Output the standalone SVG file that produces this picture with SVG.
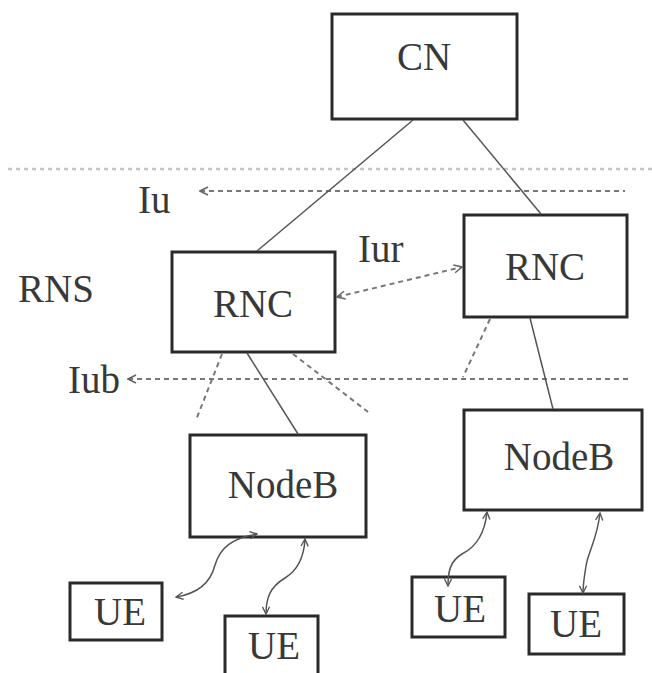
<svg xmlns="http://www.w3.org/2000/svg" width="652" height="673" viewBox="0 0 652 673">
<style>
.box{fill:#fff;stroke:#2a2a2a;stroke-width:3}
.t{font-family:"Liberation Serif","Times New Roman",serif;font-size:39px;fill:#383838}
.solid{fill:none;stroke:#555;stroke-width:1.5}
.dash{fill:none;stroke:#777;stroke-width:2;stroke-dasharray:5 4}
.dot{fill:none;stroke:#c4c4c4;stroke-width:2.5;stroke-dasharray:4 4}
.wave{fill:none;stroke:#555;stroke-width:1.5}
</style>
<defs>
<marker id="ah" viewBox="0 0 10 10" refX="9" refY="5" markerWidth="10" markerHeight="10" markerUnits="userSpaceOnUse" orient="auto-start-reverse">
<path d="M1,1 L9,5 L1,9" fill="none" stroke="#666" stroke-width="1.6"/>
</marker>
<marker id="ahs" viewBox="0 0 10 10" refX="9" refY="5" markerWidth="9" markerHeight="9" markerUnits="userSpaceOnUse" orient="auto-start-reverse">
<path d="M1,1 L9,5 L1,9" fill="none" stroke="#555" stroke-width="1.5"/>
</marker>
</defs>
<rect width="652" height="673" fill="#fff"/>
<g id="labels">
<text class="t" x="138" y="213">Iu</text>
<text class="t" x="18" y="302">RNS</text>
<text class="t" x="68" y="393">Iub</text>
<text class="t" x="358" y="262">Iur</text>
</g>
<g id="cn"><rect class="box" x="332" y="14" width="185" height="105"/><text class="t" x="424" y="70" text-anchor="middle">CN</text></g>
<g id="rnc1"><rect class="box" x="172" y="252" width="163" height="100"/><text class="t" x="253" y="317" text-anchor="middle">RNC</text></g>
<g id="rnc2"><rect class="box" x="464" y="215" width="163" height="102"/><text class="t" x="545" y="280" text-anchor="middle">RNC</text></g>
<g id="nodeb1"><rect class="box" x="190" y="435" width="176" height="102"/><text class="t" x="283" y="498" text-anchor="middle">NodeB</text></g>
<g id="nodeb2"><rect class="box" x="464" y="410" width="178" height="100"/><text class="t" x="559" y="470" text-anchor="middle">NodeB</text></g>
<g id="ue1"><rect class="box" x="70" y="583" width="92" height="57"/><text class="t" x="120" y="625" text-anchor="middle">UE</text></g>
<g id="ue2"><rect class="box" x="225" y="616" width="93" height="70"/><text class="t" x="274" y="659" text-anchor="middle">UE</text></g>
<g id="ue3"><rect class="box" x="412" y="577" width="93" height="60"/><text class="t" x="460" y="622" text-anchor="middle">UE</text></g>
<g id="ue4"><rect class="box" x="529" y="594" width="95" height="60"/><text class="t" x="576" y="637" text-anchor="middle">UE</text></g>
<g id="connectors">
<line class="dot" x1="8" y1="169" x2="652" y2="169"/>
<line class="dash" x1="200" y1="191" x2="625" y2="191" marker-start="url(#ah)"/>
<line class="dash" x1="128" y1="379" x2="628" y2="379" marker-start="url(#ah)"/>
<line class="dash" x1="337" y1="297" x2="462" y2="267" marker-start="url(#ah)" marker-end="url(#ah)"/>
<line class="solid" x1="413" y1="120" x2="257" y2="251"/>
<line class="solid" x1="463" y1="120" x2="541" y2="214"/>
<line class="solid" x1="247" y1="353" x2="298" y2="434"/>
<line class="solid" x1="530" y1="318" x2="553" y2="409"/>
<line class="dash" x1="222" y1="354" x2="196" y2="420"/>
<line class="dash" x1="293" y1="354" x2="368" y2="412"/>
<line class="dash" x1="490" y1="319" x2="463" y2="377"/>
<path class="wave" d="M257,534 C232,538 220,548 215,565 C210,585 195,594 176,597" marker-start="url(#ahs)" marker-end="url(#ahs)"/>
<path class="wave" d="M305,539 C304,558 298,570 285,578 C270,587 266,598 266,614" marker-start="url(#ahs)" marker-end="url(#ahs)"/>
<path class="wave" d="M487,512 C485,532 478,546 462,554 C450,561 448,572 448,586" marker-start="url(#ahs)" marker-end="url(#ahs)"/>
<path class="wave" d="M600,513 C597,540 588,552 586,566 C584,578 583,585 583,593" marker-start="url(#ahs)" marker-end="url(#ahs)"/>
</g>
</svg>
